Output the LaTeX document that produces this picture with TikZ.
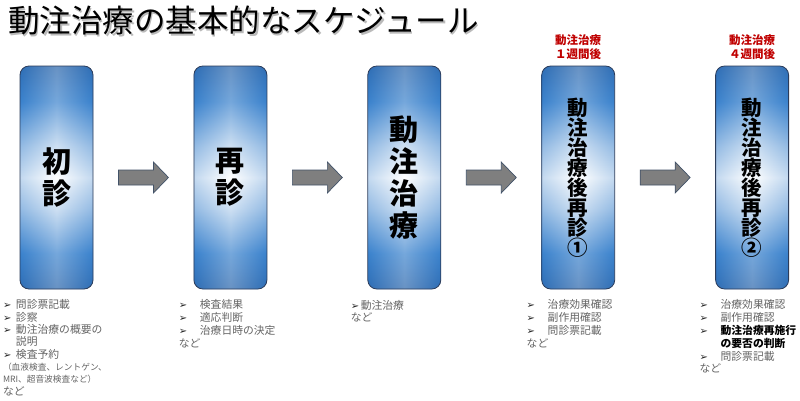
\documentclass[tikz,border=0pt]{standalone}
\usepackage{fontspec}
\setmainfont{Noto Sans CJK JP}
\newfontfamily\symfont{DejaVu Sans}
\usetikzlibrary{positioning,calc}

\definecolor{stageblue}{RGB}{58,130,205}
\definecolor{stagedark}{RGB}{40,100,170}
\definecolor{stageline}{RGB}{44,60,90}
\definecolor{arrowgray}{RGB}{127,127,127}
\definecolor{arrowline}{RGB}{66,82,104}
\definecolor{notered}{RGB}{192,0,0}
\definecolor{listgray}{RGB}{100,100,100}

\pgfdeclareverticalshading{stageglow}{100bp}{color(0bp)=(stagedark); color(25bp)=(stagedark);
  color(33bp)=(stageblue); color(43bp)=(stageblue!35!white); color(50bp)=(white);
  color(57bp)=(stageblue!35!white); color(67bp)=(stageblue); color(75bp)=(stagedark); color(100bp)=(stagedark)}

\newcommand{\listpt}[2][12pt]{\makebox[#1][l]{\textcolor{black!85}{\symfont\fontsize{10}{10}\selectfont ➢}}#2}

\begin{document}
\begin{tikzpicture}[x=1pt,y=-1pt]
  \tikzset{
    stagebox/.style={rectangle, rounded corners=9pt, minimum width=73pt, minimum height=223pt,
      inner sep=0pt, align=center, shading=stageglow,
      postaction={left color=stageblue, right color=stageblue, middle color=white, opacity=0.3},
      postaction={draw=stageline, line width=0.8pt}},
    bigstage/.style={stagebox, font=\fontsize{29}{32}\selectfont\bfseries},
    smallstage/.style={stagebox, font=\fontsize{20.5}{20}\selectfont\bfseries},
    stagearrow/.style={fill=arrowgray, draw=arrowline, line width=0.7pt},
    stagelist/.style={anchor=north west, align=left, inner sep=0pt, text=listgray,
      font=\fontsize{10.8}{13}\selectfont},
    widelist/.style={stagelist, font=\fontsize{10.8}{12.3}\selectfont},
    stagenote/.style={align=center, inner sep=0pt, text=notered, font=\fontsize{11.5}{14}\selectfont\bfseries},
    titletext/.style={anchor=west, inner sep=0pt, font=\fontsize{31.5}{31.5}\selectfont},
  }
  \useasboundingbox[fill=white] (0,0) rectangle (800,400);

  \node[titletext, text=black!45, opacity=0.6] (titleshadow) at (9.5,22.5) {動注治療の基本的なスケジュール};
  \node[titletext] (title) at (8,21) {動注治療の基本的なスケジュール};

  \node[bigstage] (stage1) at (56.5,177.5) {初\\診};
  \node[bigstage, right=100.5pt of stage1] (stage2) {再\\診};
  \node[bigstage, right=100.5pt of stage2] (stage3) {動\\注\\治\\療};
  \node[smallstage, right=100.5pt of stage3] (stage4) {動\\注\\治\\療\\後\\再\\診\\①};
  \node[smallstage, right=100.5pt of stage4] (stage5) {動\\注\\治\\療\\後\\再\\診\\②};

  \node[stagenote, above=6pt of stage4] (note4) {動注治療\\１週間後};
  \node[stagenote, above=6pt of stage5] (note5) {動注治療\\４週間後};

  \foreach \a/\b [count=\i] in {stage1/stage2,stage2/stage3,stage3/stage4,stage4/stage5}{
    \coordinate (arrow\i) at ($(\a.east)!0.5!(\b.west)$);
    \draw[stagearrow] ($(arrow\i)+(-25,-7.5)$) -- ++(35,0) -- ++(0,-8) -- ++(15,15.5)
      -- ++(-15,15.5) -- ++(0,-8) -- ++(-35,0) -- cycle;
  }

  \node[widelist] (list1) at ($(stage1.south west)+(-17,10.5)$) {%
    \listpt[13pt]{問診票記載}\\
    \listpt[13pt]{診察}\\
    \listpt[13pt]{動注治療の概要の}\\
    \hspace*{13pt}説明\\
    \listpt[13pt]{検査予約}\\
    {\fontsize{8.7}{12.3}\selectfont （血液検査、レントゲン、}\\
    {\fontsize{8.7}{12.3}\selectfont MRI、超音波検査など）}\\
    など};
  \node[stagelist] (list2) at ($(stage2.south west)+(-15,10.5)$) {%
    \listpt[21pt]{検査結果}\\
    \listpt[21pt]{適応判断}\\
    \listpt[21pt]{治療日時の決定}\\
    など};
  \node[widelist] (list3) at ($(stage3.south west)+(-17,10.5)$) {%
    \listpt[10pt]{動注治療}\\
    など};
  \node[stagelist] (list4) at ($(stage4.south west)+(-15,10.5)$) {%
    \listpt[21pt]{治療効果確認}\\
    \listpt[21pt]{副作用確認}\\
    \listpt[21pt]{問診票記載}\\
    など};
  \node[stagelist, font=\fontsize{10.8}{12.8}\selectfont] (list5) at ($(stage5.south west)+(-16,10.5)$) {%
    \listpt[21pt]{治療効果確認}\\
    \listpt[21pt]{副作用確認}\\
    \listpt[21pt]{\textcolor{black}{\bfseries 動注治療再施行}}\\
    \hspace*{21pt}\textcolor{black}{\bfseries の要否の判断}\\
    \listpt[21pt]{問診票記載}\\
    など};
\end{tikzpicture}
\end{document}
